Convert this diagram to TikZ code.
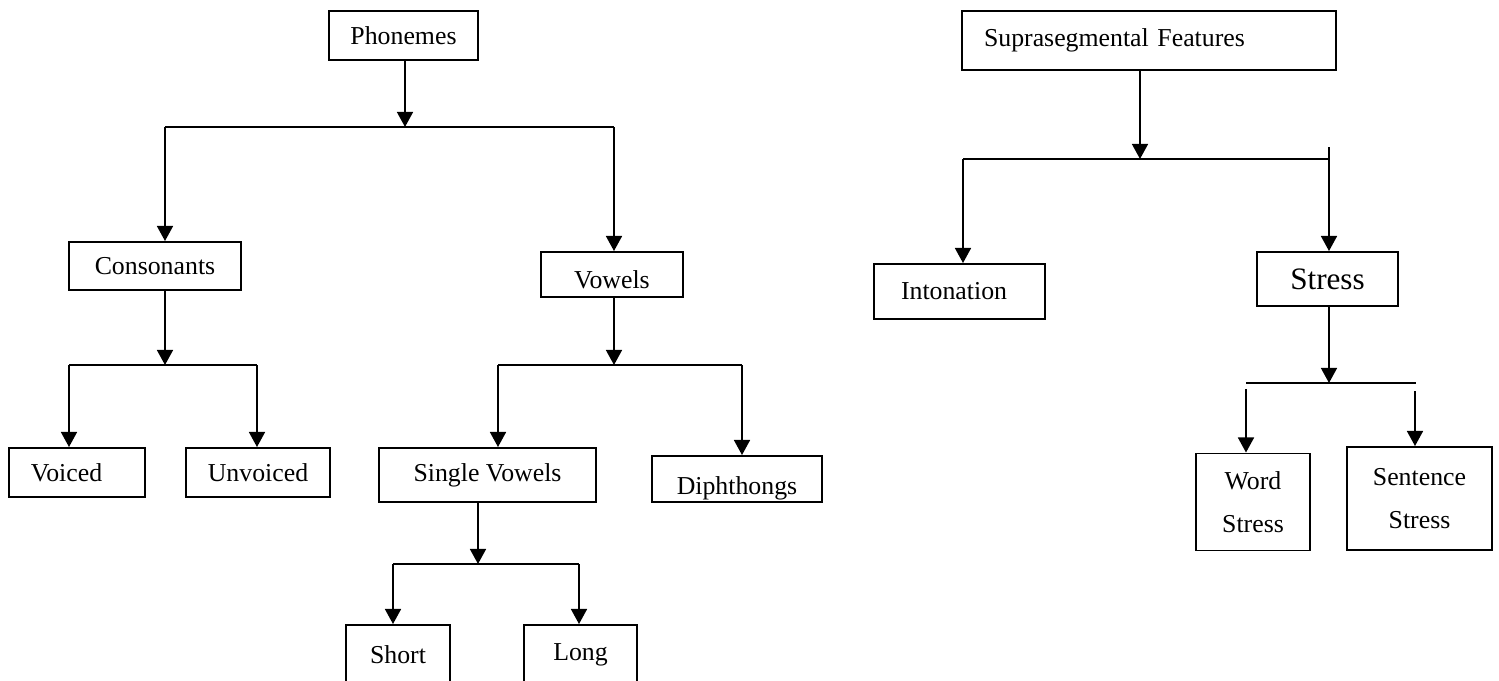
\documentclass[tikz,border=0pt]{standalone}
\usepackage{fontspec}
\setmainfont{Liberation Serif}
\usepackage{tikz}
\usetikzlibrary{arrows.meta, calc, positioning}
\newcommand{\pu}{0.465pt}
\tikzset{
  box/.style      = {draw, line width=0.9pt, inner sep=0pt,
                     font=\fontsize{12}{20}\selectfont, align=center},
  boxleft/.style  = {box, align=left},
  boxlow/.style   = {box, text height=#1, text depth=0pt},
  bigbox/.style   = {box, font=\fontsize{14.5}{18}\selectfont},
  link/.style     = {line width=0.9pt},
  arr/.style      = {link, -{Triangle[length=7pt, width=7.4pt]}},
}
\begin{document}
\begin{tikzpicture}[x=0.465pt, y=-0.465pt]
  \useasboundingbox (0,0) rectangle (1499,681);
  \clip (0,0) rectangle (1499,681);
  % segmental side
  \node[box, minimum width=149*\pu, minimum height=49*\pu] (phon) at (403.5,35.5) {Phonemes};
  \node[box, minimum width=172*\pu, minimum height=48*\pu] (cons) at (155,266) {Consonants};
  \node[boxlow=13pt, minimum width=142*\pu, minimum height=45*\pu] (vow) at (612,274.5) {Vowels};
  \node[boxleft, text width=92*\pu, inner xsep=22*\pu, minimum height=49*\pu] (voi) at (77,472.5) {Voiced};
  \node[box, minimum width=144*\pu, minimum height=49*\pu] (unv) at (258,472.5) {Unvoiced};
  \node[box, minimum width=217*\pu, minimum height=54*\pu] (sing) at (487.5,475) {Single Vowels};
  \node[boxlow=14pt, minimum width=170*\pu, minimum height=46*\pu] (diph) at (737,479) {Diphthongs};
  \node[box, minimum width=104*\pu, minimum height=60*\pu] (short) at (398,655) {Short};
  \node[box, minimum width=113*\pu, minimum height=60*\pu] (long) at (580.5,655) {Long};

  \coordinate (b1c) at (405,127);
  \coordinate (b1l) at (165,127);
  \coordinate (b1r) at (614,127);
  \draw[arr] (b1c |- phon.south) -- (b1c);
  \draw[link] (b1l) -- (b1r);
  \draw[arr] (b1l) -- (b1l |- cons.north);
  \draw[arr] (b1r) -- (b1r |- vow.north);

  \coordinate (b2c) at (165,365);
  \coordinate (b2l) at (69,365);
  \coordinate (b2r) at (257,365);
  \draw[arr] (b2c |- cons.south) -- (b2c);
  \draw[link] (b2l) -- (b2r);
  \draw[arr] (b2l) -- (b2l |- voi.north);
  \draw[arr] (b2r) -- (b2r |- unv.north);

  \coordinate (b3c) at (614,365);
  \coordinate (b3l) at (498,365);
  \coordinate (b3r) at (742,365);
  \draw[arr] (b3c |- vow.south) -- (b3c);
  \draw[link] (b3l) -- (b3r);
  \draw[arr] (b3l) -- (b3l |- sing.north);
  \draw[arr] (b3r) -- (b3r |- diph.north);

  \coordinate (b4c) at (478,564);
  \coordinate (b4l) at (393,564);
  \coordinate (b4r) at (579,564);
  \draw[arr] (b4c |- sing.south) -- (b4c);
  \draw[link] (b4l) -- (b4r);
  \draw[arr] (b4l) -- (b4l |- short.north);
  \draw[arr] (b4r) -- (b4r |- long.north);

  % suprasegmental side
  \node[boxleft, text width=330*\pu, inner xsep=22*\pu, minimum height=59*\pu] (supra) at (1149,40.5) {Suprasegmental Features};
  \node[boxleft, text width=117*\pu, inner xsep=27*\pu, minimum height=55*\pu] (inton) at (959.5,291.5) {Intonation};
  \node[bigbox, minimum width=141*\pu, minimum height=54*\pu] (stress) at (1327.5,279) {Stress};
  \node[box, minimum width=114*\pu, minimum height=97*\pu] (word) at (1253,502) {Word\\Stress};
  \node[box, minimum width=145*\pu, minimum height=103*\pu] (sent) at (1419.5,498.5) {Sentence\\Stress};

  \coordinate (b5c) at (1140,159);
  \coordinate (b5l) at (963,159);
  \coordinate (b5r) at (1329,159);
  \coordinate (b5t) at (1329,147);
  \draw[arr] (b5c |- supra.south) -- (b5c);
  \draw[link] (b5l) -- (b5r);
  \draw[arr] (b5l) -- (b5l |- inton.north);
  \draw[arr] (b5t) -- (b5t |- stress.north);

  \coordinate (b6c) at (1329,383);
  \coordinate (b6l) at (1246,383);
  \coordinate (b6r) at (1416,383);
  \coordinate (d6l) at (1246,389);
  \coordinate (d6r) at (1415,391);
  \draw[arr] (b6c |- stress.south) -- (b6c);
  \draw[link] (b6l) -- (b6r);
  \draw[arr] (d6l) -- (d6l |- word.north);
  \draw[arr] (d6r) -- (d6r |- sent.north);
\end{tikzpicture}
\end{document}
